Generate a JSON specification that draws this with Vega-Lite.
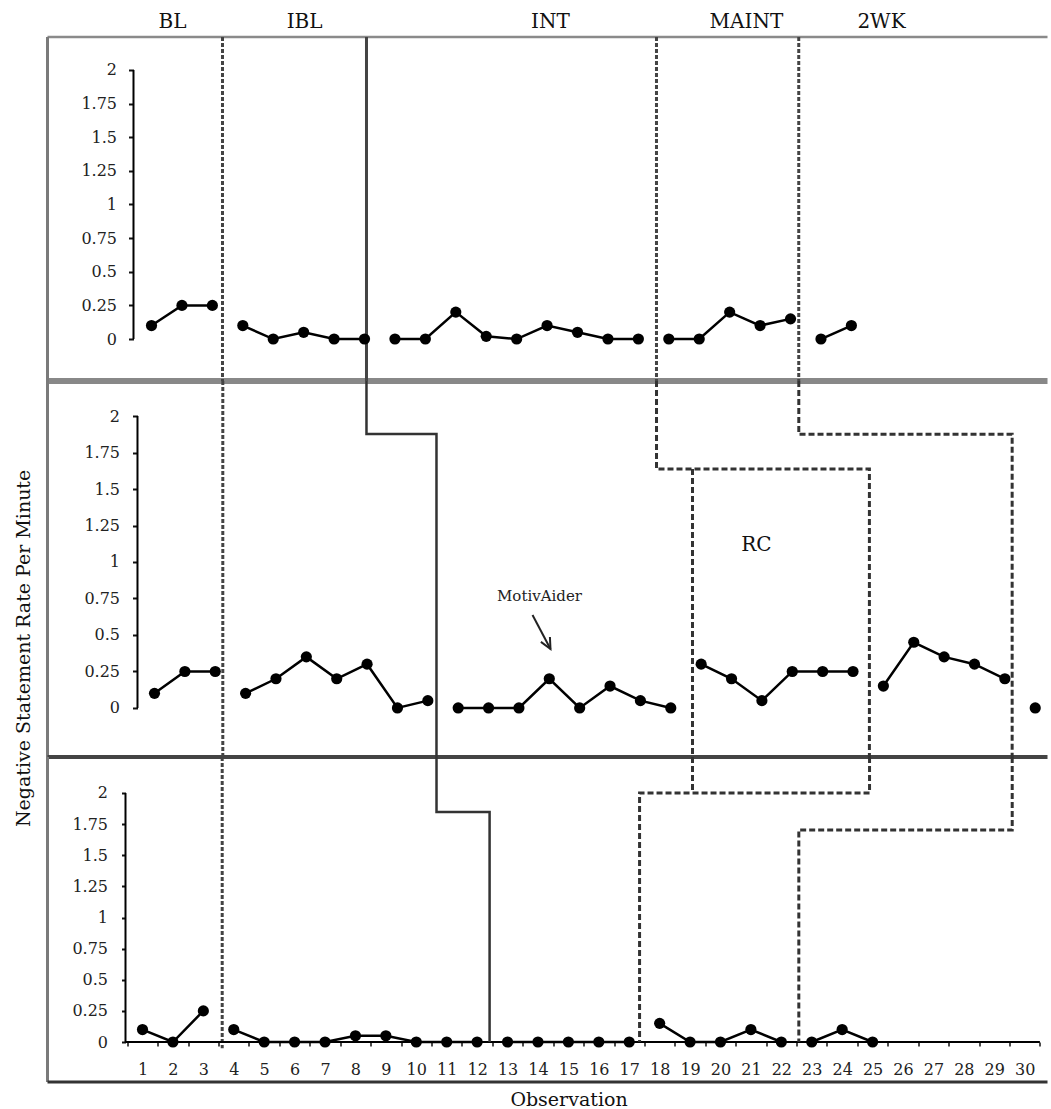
{
  "$schema": "https://vega.github.io/schema/vega-lite/v6.json",
  "padding": {"left": 14.5, "top": 11, "right": 0, "bottom": 0},
  "autosize": {"type": "pad"},
  "background": "white",
  "spacing": 0,
  "bounds": "flush",
  "config": {
    "view": {"stroke": null},
    "axis": {"labelFont": "DejaVu Serif", "titleFont": "DejaVu Serif", "grid": false},
    "text": {"font": "DejaVu Serif"}
  },
  "datasets": {
    "top": [
      {"obs": 1, "rate": 0.1, "phase": "BL"},
      {"obs": 2, "rate": 0.25, "phase": "BL"},
      {"obs": 3, "rate": 0.25, "phase": "BL"},
      {"obs": 4, "rate": 0.1, "phase": "IBL"},
      {"obs": 5, "rate": 0, "phase": "IBL"},
      {"obs": 6, "rate": 0.05, "phase": "IBL"},
      {"obs": 7, "rate": 0, "phase": "IBL"},
      {"obs": 8, "rate": 0, "phase": "IBL"},
      {"obs": 9, "rate": 0, "phase": "INT"},
      {"obs": 10, "rate": 0, "phase": "INT"},
      {"obs": 11, "rate": 0.2, "phase": "INT"},
      {"obs": 12, "rate": 0.02, "phase": "INT"},
      {"obs": 13, "rate": 0, "phase": "INT"},
      {"obs": 14, "rate": 0.1, "phase": "INT"},
      {"obs": 15, "rate": 0.05, "phase": "INT"},
      {"obs": 16, "rate": 0, "phase": "INT"},
      {"obs": 17, "rate": 0, "phase": "INT"},
      {"obs": 18, "rate": 0, "phase": "MAINT"},
      {"obs": 19, "rate": 0, "phase": "MAINT"},
      {"obs": 20, "rate": 0.2, "phase": "MAINT"},
      {"obs": 21, "rate": 0.1, "phase": "MAINT"},
      {"obs": 22, "rate": 0.15, "phase": "MAINT"},
      {"obs": 23, "rate": 0, "phase": "2WK"},
      {"obs": 24, "rate": 0.1, "phase": "2WK"}
    ],
    "mid": [
      {"obs": 1, "rate": 0.1, "phase": "BL"},
      {"obs": 2, "rate": 0.25, "phase": "BL"},
      {"obs": 3, "rate": 0.25, "phase": "BL"},
      {"obs": 4, "rate": 0.1, "phase": "IBL"},
      {"obs": 5, "rate": 0.2, "phase": "IBL"},
      {"obs": 6, "rate": 0.35, "phase": "IBL"},
      {"obs": 7, "rate": 0.2, "phase": "IBL"},
      {"obs": 8, "rate": 0.3, "phase": "IBL"},
      {"obs": 9, "rate": 0, "phase": "IBL"},
      {"obs": 10, "rate": 0.05, "phase": "IBL"},
      {"obs": 11, "rate": 0, "phase": "INT"},
      {"obs": 12, "rate": 0, "phase": "INT"},
      {"obs": 13, "rate": 0, "phase": "INT"},
      {"obs": 14, "rate": 0.2, "phase": "INT"},
      {"obs": 15, "rate": 0, "phase": "INT"},
      {"obs": 16, "rate": 0.15, "phase": "INT"},
      {"obs": 17, "rate": 0.05, "phase": "INT"},
      {"obs": 18, "rate": 0, "phase": "INT"},
      {"obs": 19, "rate": 0.3, "phase": "MAINT"},
      {"obs": 20, "rate": 0.2, "phase": "MAINT"},
      {"obs": 21, "rate": 0.05, "phase": "MAINT"},
      {"obs": 22, "rate": 0.25, "phase": "MAINT"},
      {"obs": 23, "rate": 0.25, "phase": "MAINT"},
      {"obs": 24, "rate": 0.25, "phase": "MAINT"},
      {"obs": 25, "rate": 0.15, "phase": "2WK"},
      {"obs": 26, "rate": 0.45, "phase": "2WK"},
      {"obs": 27, "rate": 0.35, "phase": "2WK"},
      {"obs": 28, "rate": 0.3, "phase": "2WK"},
      {"obs": 29, "rate": 0.2, "phase": "2WK"},
      {"obs": 30, "rate": 0, "phase": "POST"}
    ],
    "bot": [
      {"obs": 1, "rate": 0.1, "phase": "BL"},
      {"obs": 2, "rate": 0, "phase": "BL"},
      {"obs": 3, "rate": 0.25, "phase": "BL"},
      {"obs": 4, "rate": 0.1, "phase": "IBL"},
      {"obs": 5, "rate": 0, "phase": "IBL"},
      {"obs": 6, "rate": 0, "phase": "IBL"},
      {"obs": 7, "rate": 0, "phase": "IBL"},
      {"obs": 8, "rate": 0.05, "phase": "IBL"},
      {"obs": 9, "rate": 0.05, "phase": "IBL"},
      {"obs": 10, "rate": 0, "phase": "IBL"},
      {"obs": 11, "rate": 0, "phase": "IBL"},
      {"obs": 12, "rate": 0, "phase": "IBL"},
      {"obs": 13, "rate": 0, "phase": "INT"},
      {"obs": 14, "rate": 0, "phase": "INT"},
      {"obs": 15, "rate": 0, "phase": "INT"},
      {"obs": 16, "rate": 0, "phase": "INT"},
      {"obs": 17, "rate": 0, "phase": "INT"},
      {"obs": 18, "rate": 0.15, "phase": "MAINT"},
      {"obs": 19, "rate": 0, "phase": "MAINT"},
      {"obs": 20, "rate": 0, "phase": "MAINT"},
      {"obs": 21, "rate": 0.1, "phase": "MAINT"},
      {"obs": 22, "rate": 0, "phase": "MAINT"},
      {"obs": 23, "rate": 0, "phase": "2WK"},
      {"obs": 24, "rate": 0.1, "phase": "2WK"},
      {"obs": 25, "rate": 0, "phase": "2WK"}
    ],
    "topPhase": [{"obs": 3.333}, {"obs": 17.595}, {"obs": 22.27}],
    "topLabels": [
      {"label": "BL", "obs": 1.69, "rate": 2.357},
      {"label": "IBL", "obs": 6.03, "rate": 2.357},
      {"label": "INT", "obs": 14.11, "rate": 2.357},
      {"label": "MAINT", "obs": 20.55, "rate": 2.357},
      {"label": "2WK", "obs": 24.99, "rate": 2.357}
    ],
    "midSolid": [
      {"id": "s", "ord": 1, "obs": 7.98, "rate": 2.24},
      {"id": "s", "ord": 2, "obs": 7.98, "rate": 1.877},
      {"id": "s", "ord": 3, "obs": 10.285, "rate": 1.877},
      {"id": "s", "ord": 4, "obs": 10.285, "rate": -0.336}
    ],
    "midDashed": [
      {"id": "m1", "ord": 1, "obs": 17.53, "rate": 2.24},
      {"id": "m1", "ord": 2, "obs": 17.53, "rate": 1.637},
      {"id": "m1", "ord": 3, "obs": 24.54, "rate": 1.637},
      {"id": "m1", "ord": 4, "obs": 24.54, "rate": -0.336},
      {"id": "m2", "ord": 1, "obs": 18.715, "rate": 1.637},
      {"id": "m2", "ord": 2, "obs": 18.715, "rate": -0.336},
      {"id": "m3", "ord": 1, "obs": 22.215, "rate": 2.24},
      {"id": "m3", "ord": 2, "obs": 22.215, "rate": 1.875},
      {"id": "m3", "ord": 3, "obs": 29.24, "rate": 1.875},
      {"id": "m3", "ord": 4, "obs": 29.24, "rate": -0.336}
    ],
    "botSolid": [
      {"id": "s", "ord": 1, "obs": 10.665, "rate": 2.289},
      {"id": "s", "ord": 2, "obs": 10.665, "rate": 1.847},
      {"id": "s", "ord": 3, "obs": 12.41, "rate": 1.847},
      {"id": "s", "ord": 4, "obs": 12.41, "rate": 0}
    ],
    "botDashed": [
      {"id": "b1", "ord": 1, "obs": 19.08, "rate": 2.289},
      {"id": "b1", "ord": 2, "obs": 19.08, "rate": 2.0},
      {"id": "b2", "ord": 1, "obs": 24.9, "rate": 2.289},
      {"id": "b2", "ord": 2, "obs": 24.9, "rate": 2.0},
      {"id": "b2", "ord": 3, "obs": 17.34, "rate": 2.0},
      {"id": "b2", "ord": 4, "obs": 17.34, "rate": 0},
      {"id": "b3", "ord": 1, "obs": 29.59, "rate": 2.289},
      {"id": "b3", "ord": 2, "obs": 29.59, "rate": 1.703},
      {"id": "b3", "ord": 3, "obs": 22.575, "rate": 1.703},
      {"id": "b3", "ord": 4, "obs": 22.575, "rate": 0}
    ],
    "arrow": [
      {"id": "shaft", "ord": 1, "obs": 13.447, "rate": 0.637},
      {"id": "shaft", "ord": 2, "obs": 14.039, "rate": 0.404},
      {"id": "head", "ord": 1, "obs": 13.723, "rate": 0.453},
      {"id": "head", "ord": 2, "obs": 14.039, "rate": 0.404},
      {"id": "head", "ord": 3, "obs": 14.02, "rate": 0.486}
    ]
  },
  "vconcat": [
    {
      "width": 1000,
      "height": 344,
      "resolve": {"axis": {"x": "independent", "y": "independent"}},
      "layer": [
        {"data": {"values": [{}]}, "mark": {"type": "rule", "color": "#8a8a8a", "strokeWidth": 2.5},
         "encoding": {"y": {"datum": 2.245, "type": "quantitative", "scale": {"domain": [-0.312, 2.245], "nice": false, "zero": false}, "axis": null}}},
        {"data": {"values": [{}]}, "mark": {"type": "rule", "color": "#888888", "strokeWidth": 6},
         "encoding": {"y": {"datum": -0.312, "type": "quantitative", "scale": {"domain": [-0.312, 2.245], "nice": false, "zero": false}, "axis": null}}},
        {"data": {"values": [{}]}, "mark": {"type": "rule", "color": "#7a7a7a", "strokeWidth": 3},
         "encoding": {"x": {"datum": -2.418, "type": "quantitative", "scale": {"domain": [-2.418, 30.445], "nice": false, "zero": false}, "axis": null}}},
        {"data": {"name": "topPhase"}, "mark": {"type": "rule", "color": "#444444", "strokeWidth": 3, "strokeDash": [4, 2]},
         "encoding": {"x": {"field": "obs", "type": "quantitative", "scale": {"domain": [-2.418, 30.445], "nice": false, "zero": false}, "axis": null}}},
        {"data": {"values": [{}]}, "mark": {"type": "rule", "color": "#444444", "strokeWidth": 3},
         "encoding": {"x": {"datum": 8.065, "type": "quantitative", "scale": {"domain": [-2.418, 30.445], "nice": false, "zero": false}, "axis": null}}},
        {"data": {"values": [{}]}, "mark": {"type": "rule", "color": "#000000", "strokeWidth": 2},
         "encoding": {
           "x": {"datum": 0.408, "type": "quantitative", "scale": {"domain": [-2.418, 30.445], "nice": false, "zero": false}, "axis": null},
           "y": {"datum": 0, "type": "quantitative", "scale": {"domain": [-0.312, 2.245], "nice": false, "zero": false}, "axis": null},
           "y2": {"datum": 2}}},
        {"data": {"name": "top"}, "mark": {"type": "line", "color": "#000000", "strokeWidth": 2.5},
         "encoding": {
           "x": {"field": "obs", "type": "quantitative", "scale": {"domain": [-2.418, 30.445], "nice": false, "zero": false}, "axis": null},
           "y": {"field": "rate", "type": "quantitative", "scale": {"domain": [-0.312, 2.245], "nice": false, "zero": false},
                 "axis": {"values": [0, 0.25, 0.5, 0.75, 1, 1.25, 1.5, 1.75, 2], "offset": -86, "domain": false, "grid": false, "tickSize": 5, "tickWidth": 2, "tickColor": "#111111", "labelExpr": "'' + datum.value", "labelFontSize": 16, "labelColor": "#222222", "labelPadding": 12, "labelOverlap": false, "title": null}},
           "detail": {"field": "phase"}}},
        {"data": {"name": "top"}, "mark": {"type": "circle", "color": "#000000", "size": 125, "opacity": 1},
         "encoding": {
           "x": {"field": "obs", "type": "quantitative", "scale": {"domain": [-2.418, 30.445], "nice": false, "zero": false}, "axis": null},
           "y": {"field": "rate", "type": "quantitative", "scale": {"domain": [-0.312, 2.245], "nice": false, "zero": false}, "axis": null}}},
        {"data": {"name": "topLabels"}, "mark": {"type": "text", "fontSize": 20, "color": "#111111", "align": "center", "baseline": "middle"},
         "encoding": {
           "x": {"field": "obs", "type": "quantitative", "scale": {"domain": [-2.418, 30.445], "nice": false, "zero": false}, "axis": null},
           "y": {"field": "rate", "type": "quantitative", "scale": {"domain": [-0.312, 2.245], "nice": false, "zero": false}, "axis": null},
           "text": {"field": "label"}}}
      ]
    },
    {
      "width": 1000,
      "height": 376,
      "resolve": {"axis": {"x": "independent", "y": "independent"}},
      "layer": [
        {"data": {"values": [{}]}, "mark": {"type": "rule", "color": "#7a7a7a", "strokeWidth": 3},
         "encoding": {"x": {"datum": -2.523, "type": "quantitative", "scale": {"domain": [-2.523, 30.404], "nice": false, "zero": false}, "axis": null}}},
        {"data": {"values": [{}]}, "mark": {"type": "rule", "color": "#444444", "strokeWidth": 4},
         "encoding": {"y": {"datum": -0.336, "type": "quantitative", "scale": {"domain": [-0.336, 2.24], "nice": false, "zero": false}, "axis": null}}},
        {"data": {"values": [{}]}, "mark": {"type": "rule", "color": "#444444", "strokeWidth": 3, "strokeDash": [4, 2]},
         "encoding": {"x": {"datum": 3.249, "type": "quantitative", "scale": {"domain": [-2.523, 30.404], "nice": false, "zero": false}, "axis": null}}},
        {"data": {"values": [{}]}, "mark": {"type": "rule", "color": "#000000", "strokeWidth": 2},
         "encoding": {
           "x": {"datum": 0.44, "type": "quantitative", "scale": {"domain": [-2.523, 30.404], "nice": false, "zero": false}, "axis": null},
           "y": {"datum": 0, "type": "quantitative", "scale": {"domain": [-0.336, 2.24], "nice": false, "zero": false}, "axis": null},
           "y2": {"datum": 2}}},
        {"data": {"name": "midSolid"}, "mark": {"type": "line", "color": "#333333", "strokeWidth": 2.5},
         "encoding": {
           "x": {"field": "obs", "type": "quantitative", "scale": {"domain": [-2.523, 30.404], "nice": false, "zero": false}, "axis": null},
           "y": {"field": "rate", "type": "quantitative", "scale": {"domain": [-0.336, 2.24], "nice": false, "zero": false}, "axis": null},
           "detail": {"field": "id"}, "order": {"field": "ord"}}},
        {"data": {"name": "midDashed"}, "mark": {"type": "line", "color": "#333333", "strokeWidth": 3, "strokeDash": [6, 3]},
         "encoding": {
           "x": {"field": "obs", "type": "quantitative", "scale": {"domain": [-2.523, 30.404], "nice": false, "zero": false}, "axis": null},
           "y": {"field": "rate", "type": "quantitative", "scale": {"domain": [-0.336, 2.24], "nice": false, "zero": false}, "axis": null},
           "detail": {"field": "id"}, "order": {"field": "ord"}}},
        {"data": {"name": "mid"}, "mark": {"type": "line", "color": "#000000", "strokeWidth": 2.5},
         "encoding": {
           "x": {"field": "obs", "type": "quantitative", "scale": {"domain": [-2.523, 30.404], "nice": false, "zero": false}, "axis": null},
           "y": {"field": "rate", "type": "quantitative", "scale": {"domain": [-0.336, 2.24], "nice": false, "zero": false},
                 "axis": {"values": [0, 0.25, 0.5, 0.75, 1, 1.25, 1.5, 1.75, 2], "offset": -90, "domain": false, "grid": false, "tickSize": 5, "tickWidth": 2, "tickColor": "#111111", "labelExpr": "'' + datum.value", "labelFontSize": 16, "labelColor": "#222222", "labelPadding": 13, "labelOverlap": false, "title": null}},
           "detail": {"field": "phase"}}},
        {"data": {"name": "mid"}, "mark": {"type": "circle", "color": "#000000", "size": 125, "opacity": 1},
         "encoding": {
           "x": {"field": "obs", "type": "quantitative", "scale": {"domain": [-2.523, 30.404], "nice": false, "zero": false}, "axis": null},
           "y": {"field": "rate", "type": "quantitative", "scale": {"domain": [-0.336, 2.24], "nice": false, "zero": false}, "axis": null}}},
        {"data": {"name": "arrow"}, "mark": {"type": "line", "color": "#222222", "strokeWidth": 2},
         "encoding": {
           "x": {"field": "obs", "type": "quantitative", "scale": {"domain": [-2.523, 30.404], "nice": false, "zero": false}, "axis": null},
           "y": {"field": "rate", "type": "quantitative", "scale": {"domain": [-0.336, 2.24], "nice": false, "zero": false}, "axis": null},
           "detail": {"field": "id"}, "order": {"field": "ord"}}},
        {"data": {"values": [{"label": "MotivAider", "obs": 13.677, "rate": 0.767}]}, "mark": {"type": "text", "fontSize": 15, "color": "#222222"},
         "encoding": {
           "x": {"field": "obs", "type": "quantitative", "scale": {"domain": [-2.523, 30.404], "nice": false, "zero": false}, "axis": null},
           "y": {"field": "rate", "type": "quantitative", "scale": {"domain": [-0.336, 2.24], "nice": false, "zero": false}, "axis": null},
           "text": {"field": "label"}}},
        {"data": {"values": [{"label": "RC", "obs": 20.82, "rate": 1.116}]}, "mark": {"type": "text", "fontSize": 20, "color": "#111111"},
         "encoding": {
           "x": {"field": "obs", "type": "quantitative", "scale": {"domain": [-2.523, 30.404], "nice": false, "zero": false}, "axis": null},
           "y": {"field": "rate", "type": "quantitative", "scale": {"domain": [-0.336, 2.24], "nice": false, "zero": false}, "axis": null},
           "text": {"field": "label"}}},
        {"data": {"values": [{"label": "Negative Statement Rate Per Minute", "obs": -3.313, "rate": 0.408}]}, "mark": {"type": "text", "fontSize": 19, "color": "#111111", "angle": 270, "align": "center", "baseline": "middle"},
         "encoding": {
           "x": {"field": "obs", "type": "quantitative", "scale": {"domain": [-2.523, 30.404], "nice": false, "zero": false}, "axis": null},
           "y": {"field": "rate", "type": "quantitative", "scale": {"domain": [-0.336, 2.24], "nice": false, "zero": false}, "axis": null},
           "text": {"field": "label"}}}
      ]
    },
    {
      "width": 1000,
      "height": 325,
      "resolve": {"axis": {"x": "independent", "y": "independent"}},
      "layer": [
        {"data": {"values": [{}]}, "mark": {"type": "rule", "color": "#7a7a7a", "strokeWidth": 3},
         "encoding": {"x": {"datum": -2.123, "type": "quantitative", "scale": {"domain": [-2.123, 30.75], "nice": false, "zero": false}, "axis": null}}},
        {"data": {"values": [{}]}, "mark": {"type": "rule", "color": "#333333", "strokeWidth": 3},
         "encoding": {"y": {"datum": -0.321, "type": "quantitative", "scale": {"domain": [-0.321, 2.289], "nice": false, "zero": false}, "axis": null}}},
        {"data": {"values": [{}]}, "mark": {"type": "rule", "color": "#444444", "strokeWidth": 3, "strokeDash": [4, 2]},
         "encoding": {
           "x": {"datum": 3.62, "type": "quantitative", "scale": {"domain": [-2.123, 30.75], "nice": false, "zero": false}, "axis": null},
           "y": {"datum": 2.289, "type": "quantitative", "scale": {"domain": [-0.321, 2.289], "nice": false, "zero": false}, "axis": null},
           "y2": {"datum": -0.05}}},
        {"data": {"values": [{}]}, "mark": {"type": "rule", "color": "#000000", "strokeWidth": 2},
         "encoding": {
           "x": {"datum": 0.441, "type": "quantitative", "scale": {"domain": [-2.123, 30.75], "nice": false, "zero": false}, "axis": null},
           "y": {"datum": 0, "type": "quantitative", "scale": {"domain": [-0.321, 2.289], "nice": false, "zero": false}, "axis": null},
           "y2": {"datum": 2}}},
        {"data": {"values": [{}]}, "mark": {"type": "rule", "color": "#000000", "strokeWidth": 2},
         "encoding": {
           "x": {"datum": 0.441, "type": "quantitative", "scale": {"domain": [-2.123, 30.75], "nice": false, "zero": false}, "axis": null},
           "x2": {"datum": 30.5},
           "y": {"datum": 0, "type": "quantitative", "scale": {"domain": [-0.321, 2.289], "nice": false, "zero": false}, "axis": null}}},
        {"data": {"name": "botSolid"}, "mark": {"type": "line", "color": "#333333", "strokeWidth": 2.5},
         "encoding": {
           "x": {"field": "obs", "type": "quantitative", "scale": {"domain": [-2.123, 30.75], "nice": false, "zero": false}, "axis": null},
           "y": {"field": "rate", "type": "quantitative", "scale": {"domain": [-0.321, 2.289], "nice": false, "zero": false}, "axis": null},
           "detail": {"field": "id"}, "order": {"field": "ord"}}},
        {"data": {"name": "botDashed"}, "mark": {"type": "line", "color": "#333333", "strokeWidth": 3, "strokeDash": [6, 3]},
         "encoding": {
           "x": {"field": "obs", "type": "quantitative", "scale": {"domain": [-2.123, 30.75], "nice": false, "zero": false}, "axis": null},
           "y": {"field": "rate", "type": "quantitative", "scale": {"domain": [-0.321, 2.289], "nice": false, "zero": false}, "axis": null},
           "detail": {"field": "id"}, "order": {"field": "ord"}}},
        {"data": {"name": "bot"}, "mark": {"type": "line", "color": "#000000", "strokeWidth": 2.5},
         "encoding": {
           "x": {"field": "obs", "type": "quantitative", "scale": {"domain": [-2.123, 30.75], "nice": false, "zero": false},
                 "axis": {"values": [0.5, 1, 1.5, 2, 2.5, 3, 3.5, 4, 4.5, 5, 5.5, 6, 6.5, 7, 7.5, 8, 8.5, 9, 9.5, 10, 10.5, 11, 11.5, 12, 12.5, 13, 13.5, 14, 14.5, 15, 15.5, 16, 16.5, 17, 17.5, 18, 18.5, 19, 19.5, 20, 20.5, 21, 21.5, 22, 22.5, 23, 23.5, 24, 24.5, 25, 25.5, 26, 26.5, 27, 27.5, 28, 28.5, 29, 29.5, 30, 30.5],
                          "offset": -40, "domain": false, "grid": false, "tickSize": 4, "tickWidth": 1.5, "tickColor": "#111111",
                          "tickOpacity": {"condition": {"test": "datum.value % 1 === 0", "value": 0}, "value": 1},
                          "labelExpr": "datum.value % 1 === 0 ? '' + datum.value : ''",
                          "labelFontSize": 16, "labelColor": "#222222", "labelPadding": 15, "labelOverlap": false, "labelFlush": false, "labelBound": false,
                          "title": "Observation", "titleFontSize": 19, "titleFontWeight": "normal", "titleColor": "#111111",
                          "titleX": 521, "titleY": 63, "titleBaseline": "alphabetic", "titleAlign": "center"}},
           "y": {"field": "rate", "type": "quantitative", "scale": {"domain": [-0.321, 2.289], "nice": false, "zero": false},
                 "axis": {"values": [0, 0.25, 0.5, 0.75, 1, 1.25, 1.5, 1.75, 2], "offset": -78, "domain": false, "grid": false, "tickSize": 4, "tickWidth": 2, "tickColor": "#111111", "labelExpr": "'' + datum.value", "labelFontSize": 16, "labelColor": "#222222", "labelPadding": 14, "labelOverlap": false, "title": null}},
           "detail": {"field": "phase"}}},
        {"data": {"name": "bot"}, "mark": {"type": "circle", "color": "#000000", "size": 125, "opacity": 1},
         "encoding": {
           "x": {"field": "obs", "type": "quantitative", "scale": {"domain": [-2.123, 30.75], "nice": false, "zero": false}, "axis": null},
           "y": {"field": "rate", "type": "quantitative", "scale": {"domain": [-0.321, 2.289], "nice": false, "zero": false}, "axis": null}}}
      ]
    }
  ]
}
